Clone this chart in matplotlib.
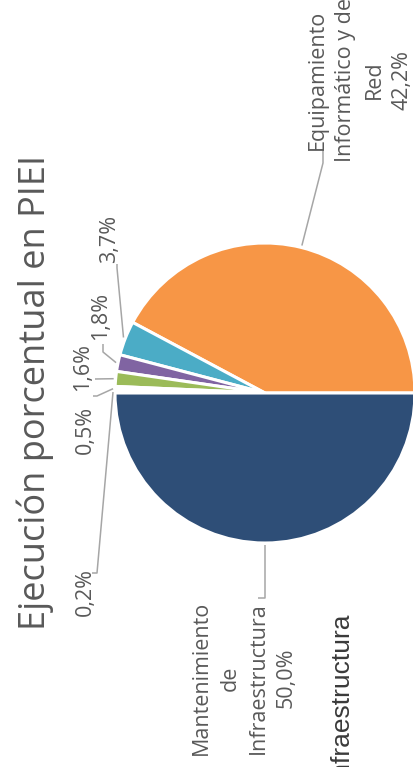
import numpy as np
import matplotlib.pyplot as plt

# Data (order as drawn, counter-clockwise from the right)
categories = ["Equipamiento\nInformático y de\nRed", "", "", "", "", "", "Mantenimiento\nde\nInfraestructura"]
values = [42.2, 3.7, 1.8, 1.6, 0.5, 0.2, 50.0]
pct_labels = ["42,2%", "3,7%", "1,8%", "1,6%", "0,5%", "0,2%", "50,0%"]
colors = ["#F79646", "#4BACC6", "#8064A2", "#9BBB59", "#FFFFFF", "#FFFFFF", "#2E4E77"]

W, H = 413, 767
fig = plt.figure(figsize=(W / 100, H / 100), dpi=100)
ax = fig.add_axes([0, 0, 1, 1])

cx, cy, R = 265, 374, 150
wedges, _ = ax.pie(values, colors=colors, startangle=0, counterclock=True,
                   center=(cx, cy), radius=R, frame=True,
                   wedgeprops=dict(edgecolor="white", linewidth=2.2))
ax.set_xlim(0, W)
ax.set_ylim(0, H)
ax.set_aspect("equal")
ax.axis("off")

txt_color = "#595959"
line_color = "#A6A6A6"
font = "Open Sans"

# label layout: text centre and leader elbow points (layout only)
label_pos = [(360, 687), (110, 528), (101, 451), (83, 400), (85, 337), (85, 175), (244, 89)]
elbows = [
    [(323, 604), (323, 617)],
    [(117, 499), (117, 503)],
    [(103, 415), (103, 423)],
    [(95, 388)],
    [(97, 371), (93, 371)],
    [(97, 194), (92, 194)],
    [(265, 169), (258, 169)],
]

for w, cat, pct, pos, elb in zip(wedges, categories, pct_labels, label_pos, elbows):
    mid = np.deg2rad((w.theta1 + w.theta2) / 2)
    x0 = cx + (R + 2) * np.cos(mid)
    y0 = cy + (R + 2) * np.sin(mid)
    xs = [x0] + [p[0] for p in elb]
    ys = [y0] + [p[1] for p in elb]
    ax.plot(xs, ys, color=line_color, linewidth=1.1, solid_capstyle="butt")
    text = (cat + "\n" + pct) if cat else pct
    ax.text(pos[0], pos[1], text, rotation=90, ha="center", va="center",
            multialignment="center", fontsize=15.5, family=font,
            color=txt_color, linespacing=1.45)

# title
ax.text(35, 374.5, "Ejecución porcentual en PIEI", rotation=90, ha="center", va="center",
        fontsize=26, family=font, color=txt_color)

# cut-off axis title at the bottom right
ax.text(341, 156, "Infraestructura", rotation=90, ha="center", va="top",
        fontsize=19, family=["Liberation Sans Narrow", "Liberation Sans"], stretch="condensed",
        color="#3A3A3A")

plt.savefig("out.png", dpi=100)
